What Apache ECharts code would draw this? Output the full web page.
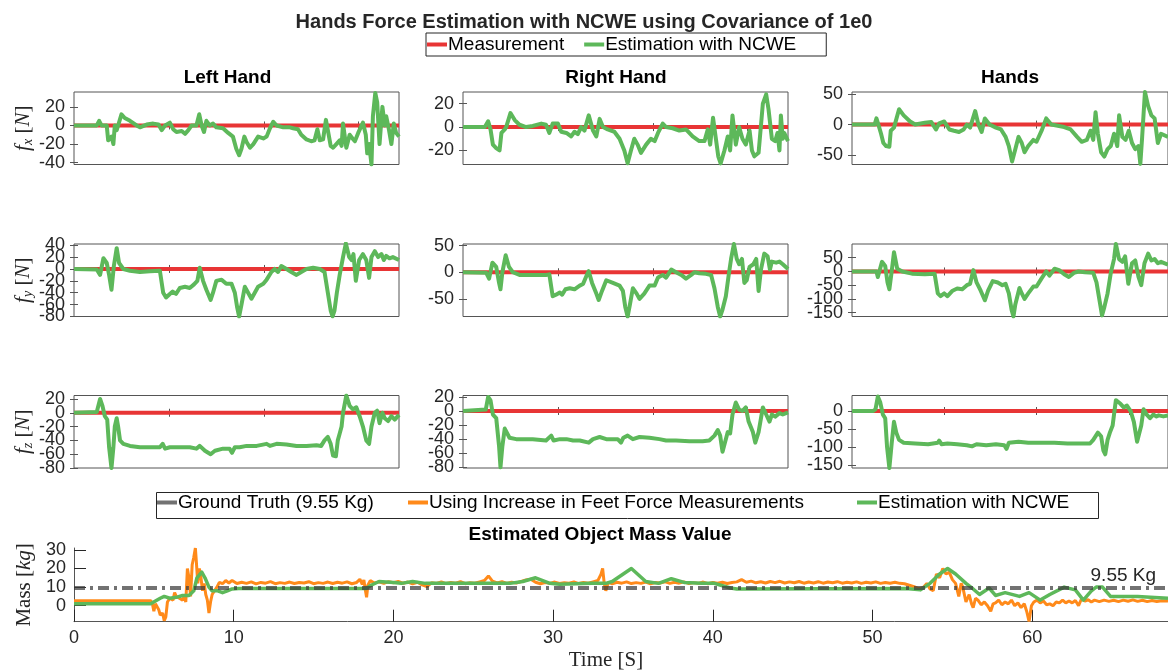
<!DOCTYPE html>
<html><head><meta charset="utf-8">
<script src="https://cdn.jsdelivr.net/npm/echarts@6/dist/echarts.min.js"></script>
<style>html,body{margin:0;padding:0;background:#fff}#c{width:1168px;height:672px}</style>
</head><body><div id="c"></div>
<script>
const XMAX = 68.5;
const xTicksSmall = [20, 40, 60];
const massXTicks = [0, 10, 20, 30, 40, 50, 60];
const massYTicks = [0, 10, 20, 30];
const groundTruth = 9.55;

const yTicks = [[-40,-20,0,20],[-20,0,20],[-50,0,50],[-80,-60,-40,-20,0,20,40],[-50,0,50],[-150,-100,-50,0,50],[-80,-60,-40,-20,0,20],[-80,-60,-40,-20,0,20],[-150,-100,-50,0]];
const yMin = [-42,-32,-65,-80,-83,-164,-80,-81,-158];
const yMax = [36,30,53,42,53,100,25,22,43];

const measurement = [[0,0],[XMAX,0]];

const fxLeft = [[0,0],[4.8,0],[5.3,5],[5.8,0],[6.9,0],[7.2,-16],[7.6,-18],[7.9,-12],[8.3,-20],[8.6,0],[9.0,-5],[9.3,0],[10.0,12],[10.7,8],[11.8,5],[13.2,0],[13.9,-2],[15.3,1],[16.7,2],[17.8,1],[18.5,-5],[19.2,0],[20.2,3],[20.9,-4],[21.6,-7],[22.7,-6],[23.4,-9],[24.1,-5],[24.8,0],[25.8,0],[26.4,12],[26.9,0],[27.4,-7],[27.9,5],[28.6,0],[29.3,2],[30.0,-2],[31.4,-3],[32.5,-8],[33.5,-12],[34.2,-25],[34.8,-32],[35.3,-25],[35.9,-12],[36.4,-18],[37.1,-24],[37.8,-20],[38.8,-12],[39.9,-14],[40.6,-12],[41.3,-3],[42.0,4],[42.7,0],[44.1,-2],[45.5,-2],[46.2,-3],[47.2,-4],[47.9,-10],[49.0,-15],[50.0,-17],[50.7,-16],[51.3,-4],[51.8,-16],[52.5,-15],[53.1,6],[53.5,-5],[54.1,-22],[54.6,-24],[55.3,-20],[56.0,-16],[56.4,-22],[56.7,2],[57.4,-24],[58.1,-10],[58.7,-14],[59.2,-17],[59.9,-8],[60.9,3],[61.5,-10],[61.8,-30],[62.2,-20],[62.7,-42],[63.0,10],[63.5,35],[63.9,25],[64.4,-20],[65.0,20],[65.5,0],[65.8,10],[66.4,-5],[66.9,-20],[67.4,2],[67.9,-8],[68.5,-12]];
const fxRight = [[0,0],[4.6,0],[5.3,5],[5.8,-2],[6.3,-15],[7.0,-18],[7.7,-20],[8.1,-5],[8.8,-2],[9.1,0],[10.0,12],[10.9,6],[11.9,2],[13.3,0],[14.7,1],[16.5,3],[17.5,2],[18.2,-5],[18.9,3],[20.0,3],[20.7,-4],[21.8,-5],[22.8,-8],[23.5,-4],[24.2,-6],[24.9,0],[25.6,-3],[26.5,10],[27.4,-3],[28.1,-8],[28.8,7],[29.5,0],[30.5,-2],[31.9,-4],[33.0,-10],[34.0,-20],[34.7,-31],[35.4,-20],[36.1,-10],[36.8,-15],[37.5,-22],[38.6,-15],[39.6,-10],[40.4,-12],[41.1,-5],[42.1,3],[42.8,0],[44.2,-1],[45.6,-3],[47.0,-2],[48.4,-8],[49.8,-12],[50.9,-12],[51.6,-2],[52.1,-15],[52.7,8],[53.3,-10],[53.8,-25],[54.3,-31],[55.1,-20],[55.8,-8],[56.3,-20],[56.8,10],[57.5,-15],[58.2,0],[58.9,-10],[59.6,-15],[60.4,-3],[60.9,-20],[61.4,-25],[62.3,-22],[63.2,20],[63.9,28],[64.4,15],[65.1,-10],[65.8,-12],[66.3,-5],[66.7,-20],[67.0,10],[67.4,-10],[67.7,-5],[68.5,-12]];
const fxHands = [[0,0],[4.9,0],[5.3,10],[5.8,-2],[6.3,-15],[6.8,-30],[7.4,-35],[8.1,-36],[8.4,-10],[9.1,-5],[10.2,25],[11.2,15],[12.6,5],[13.7,0],[15.8,3],[17.2,4],[18.2,-8],[18.9,2],[20.0,5],[21.1,-8],[22.1,-10],[23.2,-12],[24.2,-8],[24.9,0],[25.6,-5],[26.7,22],[27.4,0],[28.1,-12],[28.8,10],[29.8,0],[31.2,-5],[32.3,-8],[33.3,-20],[34.0,-35],[34.7,-60],[35.4,-40],[36.1,-20],[36.8,-30],[37.4,-45],[38.2,-35],[39.3,-25],[40.0,-28],[41.1,-10],[42.1,10],[43.2,0],[44.6,-2],[46.0,-4],[47.4,-8],[48.8,-20],[49.8,-28],[50.9,-25],[51.7,-10],[52.3,-25],[52.8,20],[53.3,-15],[54.0,-45],[54.7,-52],[55.4,-40],[56.1,-35],[56.8,-15],[57.5,-35],[57.9,15],[58.6,-20],[59.3,-25],[60.0,-10],[60.7,-30],[61.4,-40],[62.1,-35],[62.5,-64],[62.9,-20],[63.5,53],[64.2,30],[64.9,15],[65.6,10],[66.3,-30],[67.0,-15],[68.5,-20]];

const fyLeft = [[0,0],[4.8,-1],[5.5,-10],[6.2,18],[6.9,10],[7.4,-10],[7.9,-35],[8.4,5],[9.0,35],[9.5,10],[10.4,0],[11.8,-3],[13.9,-5],[16.0,-4],[18.1,-3],[18.8,-40],[19.4,-48],[20.2,-42],[20.8,-38],[21.5,-42],[22.3,-32],[23.4,-30],[24.4,-32],[25.3,-26],[26.0,-20],[26.5,2],[27.2,-20],[27.9,-35],[28.8,-52],[29.3,-40],[30.0,-20],[31.1,-18],[32.1,-25],[33.2,-25],[33.9,-40],[34.4,-65],[34.8,-80],[35.3,-60],[36.0,-30],[36.7,-40],[37.4,-50],[38.1,-40],[38.8,-30],[39.9,-25],[40.6,-18],[41.6,-5],[42.3,0],[43.0,-5],[43.7,5],[44.8,0],[45.8,-5],[46.9,-10],[47.9,-5],[49.0,0],[50.4,2],[51.8,0],[52.8,-5],[53.5,-40],[54.1,-70],[54.5,-80],[54.9,-70],[55.4,-40],[56.0,-10],[56.7,20],[57.3,43],[58.0,20],[58.5,15],[58.9,25],[59.4,-20],[60.1,15],[60.9,25],[61.6,15],[62.2,-15],[62.7,20],[63.4,30],[64.1,20],[64.8,25],[65.3,15],[65.8,22],[66.5,18],[67.2,20],[68.5,15]];
const fyRight = [[0,0],[4.9,-1],[5.5,-12],[6.2,18],[7.0,10],[7.6,-20],[7.9,-32],[8.3,0],[9.0,32],[9.7,10],[10.5,0],[11.9,-5],[14.7,-5],[17.5,-5],[18.2,-4],[18.9,-45],[19.6,-42],[20.4,-38],[20.9,-42],[21.6,-32],[22.5,-30],[23.5,-32],[24.6,-25],[25.3,-22],[26.1,-5],[26.5,2],[27.2,-20],[28.1,-40],[28.6,-52],[29.3,-35],[30.2,-15],[31.6,-20],[33.0,-25],[33.7,-35],[34.2,-65],[34.7,-83],[35.2,-60],[35.8,-30],[36.6,-40],[37.2,-50],[38.2,-40],[39.3,-25],[40.4,-25],[41.1,-10],[42.1,-5],[42.8,-10],[43.9,5],[44.9,0],[46.0,-5],[47.0,-12],[48.1,-5],[48.8,0],[49.8,-2],[51.2,-3],[52.3,-5],[53.0,-30],[53.7,-65],[54.2,-83],[54.7,-70],[55.4,-45],[56.0,-5],[56.5,25],[57.1,53],[57.7,25],[58.2,15],[58.8,25],[59.3,-20],[59.8,-15],[60.4,10],[61.2,15],[61.8,25],[62.3,-35],[62.8,5],[63.5,35],[64.2,30],[64.7,5],[65.1,20],[66.0,18],[66.7,20],[67.4,15],[68.5,6]];
const fyHands = [[0,0],[5.3,0],[5.6,-20],[6.5,35],[7.2,20],[7.7,-40],[8.1,-65],[8.6,0],[9.1,70],[9.8,10],[10.9,0],[13.0,-8],[15.8,-10],[17.9,-8],[18.6,-80],[19.2,-90],[20.0,-80],[20.7,-90],[21.8,-70],[22.8,-62],[23.9,-65],[24.9,-50],[25.6,-45],[26.3,5],[27.0,-40],[27.9,-70],[28.8,-105],[29.5,-70],[30.5,-35],[31.6,-40],[32.6,-50],[33.3,-45],[34.0,-80],[34.6,-140],[35.0,-164],[35.4,-120],[36.3,-60],[36.8,-80],[37.4,-100],[38.2,-80],[39.3,-55],[40.0,-55],[41.1,-25],[42.1,0],[42.8,-15],[43.9,10],[44.9,5],[46.0,-10],[47.0,-20],[48.1,-5],[49.1,0],[50.5,-3],[52.3,-5],[53.0,-40],[53.7,-110],[54.2,-160],[54.7,-130],[55.4,-80],[56.1,-5],[56.8,45],[57.2,100],[57.9,45],[58.6,35],[59.2,55],[59.9,-45],[60.7,30],[61.4,40],[62.1,-20],[62.7,-50],[63.4,30],[64.2,65],[64.9,40],[65.6,45],[66.3,30],[67.0,35],[68.5,25]];

const fzLeft = [[0,0],[4.8,1],[5.5,20],[6.0,10],[6.5,-5],[7.0,-10],[7.4,-50],[7.9,-80],[8.3,-50],[8.6,-20],[9.0,-8],[9.3,-20],[9.7,-40],[10.4,-45],[11.8,-48],[13.9,-50],[16.7,-50],[18.1,-50],[18.7,-45],[19.2,-52],[20.2,-50],[21.6,-50],[23.0,-50],[24.4,-50],[25.8,-52],[26.5,-48],[27.6,-55],[28.8,-60],[29.7,-55],[31.4,-52],[32.8,-52],[33.3,-58],[33.9,-50],[34.9,-50],[36.4,-48],[38.5,-48],[40.6,-45],[41.3,-48],[42.7,-45],[44.8,-46],[46.9,-48],[49.0,-48],[51.1,-47],[52.1,-48],[52.8,-40],[53.5,-35],[54.1,-45],[54.6,-62],[55.2,-63],[55.6,-40],[56.0,-30],[56.4,-20],[56.7,0],[57.4,25],[58.1,10],[58.8,5],[59.5,8],[60.2,-5],[60.9,-20],[61.6,-40],[62.2,-45],[62.7,-20],[63.4,0],[63.9,3],[64.4,-15],[65.0,0],[65.5,-8],[66.2,-12],[66.9,-5],[67.6,-10],[68.5,-3]];
const fzRight = [[0,0],[4.8,2],[5.3,20],[5.8,15],[6.3,-5],[7.0,-10],[7.6,-50],[7.9,-80],[8.3,-50],[8.8,-25],[9.1,-25],[9.8,-38],[11.2,-40],[14.7,-40],[17.5,-42],[18.6,-35],[19.1,-42],[20.4,-40],[21.8,-40],[23.2,-42],[24.6,-42],[26.5,-45],[27.4,-40],[28.8,-37],[30.2,-40],[31.6,-40],[32.6,-40],[33.3,-45],[33.8,-38],[34.7,-35],[35.8,-40],[37.2,-37],[39.3,-38],[41.4,-40],[42.8,-42],[44.9,-42],[47.7,-43],[50.5,-43],[51.9,-42],[53.0,-35],[53.7,-27],[54.2,-35],[54.7,-58],[55.1,-60],[55.8,-30],[56.3,-32],[56.8,-5],[57.5,12],[58.2,2],[58.9,0],[59.6,5],[60.2,-15],[61.1,-30],[61.6,-45],[62.3,-30],[63.2,5],[63.9,-5],[64.6,-15],[65.1,-5],[65.8,-8],[66.7,-3],[67.4,-5],[68.5,-2]];
const fzHands = [[0,0],[4.6,0],[5.1,5],[5.6,40],[6.1,25],[6.7,-10],[7.2,-20],[7.6,-100],[8.1,-158],[8.6,-90],[9.1,-30],[9.6,-60],[10.2,-80],[11.2,-88],[13.7,-90],[16.5,-92],[18.6,-88],[18.9,-82],[19.4,-92],[20.7,-90],[22.8,-92],[24.9,-95],[26.0,-98],[27.0,-92],[29.1,-95],[31.2,-92],[33.0,-95],[33.5,-105],[34.0,-88],[36.1,-85],[38.2,-88],[41.1,-88],[43.9,-88],[46.7,-90],[49.5,-90],[51.6,-90],[52.3,-80],[53.3,-60],[54.0,-70],[54.5,-110],[54.9,-120],[55.4,-80],[55.9,-60],[56.5,-40],[56.8,-10],[57.2,30],[57.5,35],[58.2,20],[58.9,10],[59.6,15],[60.4,0],[61.1,-30],[61.8,-85],[62.2,-80],[62.7,-40],[63.2,5],[63.9,-10],[64.6,-20],[65.3,-10],[66.0,-15],[66.5,-12],[67.5,-15],[68.5,-12]];

const massFeet = [[0,2.7],[4.8,2.7],[4.9,1.5],[5.0,-3],[5.1,1],[5.2,2],[5.3,-2],[5.4,-5],[5.55,-4],[5.65,-8],[5.75,-6],[5.85,2],[6.0,4],[6.1,5],[6.2,3],[6.3,7],[6.4,5],[6.5,6],[6.6,4],[6.7,4.5],[6.8,3],[6.9,5],[7.0,2],[7.1,20],[7.2,15],[7.3,5],[7.4,22],[7.5,26],[7.6,31],[7.65,25],[7.75,12],[7.85,20],[7.95,15],[8.05,8],[8.15,12],[8.25,6],[8.35,3],[8.45,-4],[8.55,2],[8.65,6],[8.8,8],[8.95,10],[9.1,12.5],[9.3,11.8],[9.5,13.5],[9.7,12.2],[9.9,13.6],[10.2,11.9],[10.5,12.6],[10.8,12.0],[11.1,12.8],[11.4,11.7],[11.7,12.5],[12.0,12.1],[12.3,12.9],[12.6,11.8],[12.9,12.4],[13.2,12.0],[13.5,12.7],[13.8,11.9],[14.1,12.5],[14.4,12.2],[14.7,12.9],[15.0,11.8],[15.3,12.4],[15.6,12.0],[15.9,12.7],[16.2,11.9],[16.5,12.6],[16.8,12.1],[17.1,12.8],[17.4,11.8],[17.7,12.5],[17.9,14.2],[18.05,11.5],[18.15,13.8],[18.25,8],[18.32,4.5],[18.4,11],[18.55,13.5],[18.8,12.2],[19.1,12.8],[19.4,12.0],[19.7,12.9],[20.0,12.3],[20.3,13.0],[20.6,12.1],[20.9,12.7],[21.2,11.8],[21.5,12.6],[21.8,11.2],[22.1,10.2],[22.4,12.4],[22.7,12.0],[23.0,12.8],[23.3,11.9],[23.6,12.5],[23.9,12.1],[24.2,12.9],[24.5,11.8],[24.8,12.4],[25.1,12.1],[25.4,12.8],[25.7,13.5],[25.95,16],[26.2,13.2],[26.5,12.2],[26.8,12.9],[27.1,12.0],[27.4,12.6],[27.7,12.2],[28.0,13.0],[28.3,13.8],[28.6,14.2],[28.9,12.6],[29.2,11.8],[29.5,12.5],[29.8,12.0],[30.1,12.7],[30.4,11.9],[30.7,12.4],[31.0,12.1],[31.3,12.8],[31.6,11.9],[31.9,12.5],[32.2,12.1],[32.5,12.8],[32.8,13.5],[33.0,17],[33.1,20],[33.2,12],[33.3,8],[33.45,12.5],[33.7,11.8],[34.0,12.6],[34.3,12.1],[34.6,12.8],[34.9,11.9],[35.2,12.4],[35.5,12.0],[35.8,12.7],[36.1,11.8],[36.4,12.5],[36.7,12.2],[37.0,12.9],[37.3,12.0],[37.6,12.6],[37.9,12.1],[38.2,12.8],[38.5,11.9],[38.8,12.4],[39.1,12.0],[39.4,12.7],[39.7,11.8],[40.0,12.5],[40.3,12.1],[40.6,12.6],[40.9,11.9],[41.2,12.5],[41.5,12.8],[41.8,14.0],[42.1,12.6],[42.4,13.2],[42.7,12.3],[43.0,12.9],[43.3,12.2],[43.6,13.0],[43.9,12.4],[44.2,13.1],[44.5,12.2],[44.8,12.8],[45.1,12.3],[45.4,13.0],[45.7,12.1],[46.0,12.7],[46.3,12.2],[46.6,12.9],[46.9,12.1],[47.2,12.7],[47.5,12.3],[47.8,12.9],[48.1,12.1],[48.4,12.6],[48.7,12.2],[49.0,12.8],[49.3,12.0],[49.6,12.6],[49.9,12.2],[50.2,12.8],[50.5,12.0],[50.8,12.5],[51.1,12.1],[51.4,12.6],[51.7,12.0],[52.0,11.8],[52.3,11.0],[52.6,10.2],[52.9,9.0],[53.0,8],[53.2,10],[53.4,12],[53.6,9],[53.8,8],[54.0,17],[54.2,15],[54.4,20],[54.6,17],[54.8,18],[55.0,14],[55.2,12],[55.4,5],[55.55,12],[55.65,10],[55.85,2],[56.05,6],[56.2,1],[56.3,-1],[56.45,4],[56.6,3],[56.8,0.5],[57.0,2],[57.2,0],[57.4,-3],[57.55,1],[57.7,1.5],[57.9,3],[58.1,0.5],[58.3,2],[58.5,1],[58.7,3],[58.9,0],[59.1,1.5],[59.3,-1],[59.5,1],[59.65,-3],[59.8,-8.5],[59.95,0],[60.1,2],[60.3,3],[60.5,1.5],[60.7,2.5],[60.9,0.5],[61.1,1],[61.3,0],[61.5,2],[61.7,1.5],[61.9,3],[62.1,1.5],[62.3,2.5],[62.5,1.5],[62.7,2.8],[62.9,0],[63.1,4],[63.3,2.5],[63.5,3.2],[63.7,2],[63.9,3],[64.2,2.2],[64.5,3.0],[64.8,2.3],[65.1,2.9],[65.4,2.2],[65.7,3.0],[66.0,2.4],[66.3,3.1],[66.6,2.3],[66.9,2.9],[67.2,2.2],[67.5,2.8],[67.8,2.3],[68.1,2.7],[68.5,2.5]];
const massNCWE = [[0,1],[4.8,1],[5.1,2.5],[5.4,4],[5.65,5],[6.0,4],[6.4,4.5],[6.8,5.5],[7.2,5.5],[7.5,8],[7.7,15],[8.0,18],[8.2,15],[8.45,10],[8.65,8],[9.0,8],[9.3,7],[9.6,8],[9.9,9],[10.3,9.3],[18.3,9.3],[18.6,11],[19.1,13],[20.0,12.5],[20.5,12],[21.2,13],[22,12],[27.3,12],[28.1,13],[28.9,15],[29.8,12],[30.4,11.5],[32.4,12],[33.3,12],[33.7,13],[34.9,20],[35.8,13],[36.6,12],[37.4,14.5],[38.2,12.5],[39.3,12],[40.1,12],[40.5,11],[41.1,9.5],[41.5,9],[52.1,9.3],[53.0,8.5],[53.6,12],[54.2,17],[54.7,20],[55.2,17],[55.85,12],[56.3,9],[56.7,6],[57.3,9.5],[57.7,5.5],[58.3,7],[59.2,5],[59.8,7],[60.5,3],[61.1,6],[62.0,10],[62.7,8.5],[63.2,3],[63.7,8],[64.0,10],[64.4,10],[64.9,5],[65.8,5],[66.6,5],[67.4,4.5],[68.5,4]];

const panelData = [fxLeft, fxRight, fxHands, fyLeft, fyRight, fyHands, fzLeft, fzRight, fzHands];
const columnTitles = ['Left Hand', 'Right Hand', 'Hands'];
const rowSub = ['x', 'y', 'z'];

const RED = '#e83535', GREEN = '#5db85a', ORANGE = '#ff8a1a', GRAY = 'rgba(60,60,60,0.72)';
const TXT = '#262626', AX = '#555';
const SANS = 'Liberation Sans', SERIF = 'Liberation Serif';
const colLeft = [74, 463, 852], rowTop = [92, 244, 395.5], PW = 325, PH = 72.5;

const grid = [], xAxis = [], yAxis = [], series = [];
for (let i = 0; i < 9; i++) {
  const r = Math.floor(i / 3), c = i % 3;
  grid.push({left: colLeft[c], top: rowTop[r], width: PW, height: PH, show: true, borderColor: AX, borderWidth: 1, backgroundColor: 'transparent'});
  const xa = {gridIndex: i, type: 'value', min: 0, max: XMAX, axisLine: {show: false}, splitLine: {show: false},
    axisTick: {show: true, inside: true, length: 4, customValues: xTicksSmall, lineStyle: {color: AX}}, axisLabel: {show: false}};
  xAxis.push(Object.assign({}, xa, {position: 'bottom'}));
  xAxis.push(Object.assign({}, xa, {position: 'top'}));
  const ya = {gridIndex: i, type: 'value', min: yMin[i], max: yMax[i], axisLine: {show: false}, splitLine: {show: false},
    axisTick: {show: true, inside: true, length: 4, customValues: yTicks[i], lineStyle: {color: AX}}};
  // labels split into two interleaved sets so close labels are not dropped
  const labA = yTicks[i].filter((_, j) => j % 2 === 0);
  const labB = yTicks[i].filter((_, j) => j % 2 === 1);
  const labStyle = {fontSize: 18, color: TXT, fontFamily: SANS, margin: 9, hideOverlap: false};
  const left = Object.assign({}, ya, {position: 'left',
    axisLabel: Object.assign({show: true, customValues: labA}, labStyle)});
  if (c === 0) {
    Object.assign(left, {name: '{i|f}{s|' + rowSub[r] + '}{r| [}{i|N}{r|]}', nameLocation: 'middle', nameRotate: 90, nameGap: 38,
      nameTextStyle: {rich: {
        i: {fontFamily: SERIF, fontStyle: 'italic', fontSize: 21, color: TXT, lineHeight: 24},
        s: {fontFamily: SERIF, fontStyle: 'italic', fontSize: 14, color: TXT, verticalAlign: 'bottom', lineHeight: 18},
        r: {fontFamily: SERIF, fontSize: 21, color: TXT, lineHeight: 24}}}});
  }
  yAxis.push(left);
  yAxis.push(Object.assign({}, ya, {position: 'right', axisLabel: {show: false}}));
  yAxis.push(Object.assign({}, ya, {position: 'left', axisTick: {show: false},
    axisLabel: Object.assign({show: labB.length > 0, customValues: labB}, labStyle)}));
  series.push({name: 'Measurement', type: 'line', xAxisIndex: 2 * i, yAxisIndex: 3 * i, data: measurement,
    showSymbol: false, symbol: 'none', color: RED, lineStyle: {color: RED, width: 4}, z: 2});
  series.push({name: 'Estimation with NCWE', type: 'line', xAxisIndex: 2 * i, yAxisIndex: 3 * i, data: panelData[i],
    showSymbol: false, symbol: 'none', color: GREEN, lineStyle: {color: GREEN, width: 4, join: 'round'}, z: 3});
}

// bottom mass plot
grid.push({left: 74, top: 548, width: 1103, height: 73.7});
xAxis.push({gridIndex: 9, type: 'value', min: 0, max: XMAX, position: 'bottom',
  axisLine: {show: true, onZero: false, lineStyle: {color: AX, width: 1}}, splitLine: {show: false},
  axisTick: {show: true, inside: true, length: 12, customValues: massXTicks, lineStyle: {color: TXT}},
  axisLabel: {customValues: massXTicks, fontSize: 18, color: TXT, fontFamily: SANS, margin: 7},
  name: 'Time [S]', nameLocation: 'middle', nameGap: 28,
  nameTextStyle: {fontFamily: SERIF, fontSize: 21, color: TXT, padding: [0, 30, 0, 0]}});
yAxis.push({gridIndex: 9, type: 'value', min: -8.6, max: 31, position: 'left',
  axisLine: {show: true, lineStyle: {color: AX, width: 1}}, splitLine: {show: false},
  axisTick: {show: true, inside: true, length: 12, customValues: massYTicks, lineStyle: {color: TXT}},
  axisLabel: {customValues: massYTicks, fontSize: 18, color: TXT, fontFamily: SANS, margin: 8},
  name: '{r|Mass [}{i|kg}{r|]}', nameLocation: 'middle', nameRotate: 90, nameGap: 33,
  nameTextStyle: {rich: {
    i: {fontFamily: SERIF, fontStyle: 'italic', fontSize: 21, color: TXT},
    r: {fontFamily: SERIF, fontSize: 21, color: TXT}}}});
const MY = 27; // index of the mass y axis
series.push({name: 'Using Increase in Feet Force Measurements', type: 'line', xAxisIndex: 18, yAxisIndex: MY, data: massFeet,
  showSymbol: false, symbol: 'none', color: ORANGE, lineStyle: {color: ORANGE, width: 3}, z: 2});
series.push({name: 'Estimation with NCWE', type: 'line', xAxisIndex: 18, yAxisIndex: MY, data: massNCWE,
  showSymbol: false, symbol: 'none', color: GREEN, lineStyle: {color: GREEN, width: 3.5, join: 'round'}, z: 3});
series.push({name: 'Ground Truth (9.55 Kg)', type: 'line', xAxisIndex: 18, yAxisIndex: MY, data: [[0, groundTruth], [XMAX, groundTruth]],
  showSymbol: false, symbol: 'none', color: GRAY, lineStyle: {color: GRAY, width: 4, type: [11, 5, 3, 5]}, z: 4,
  markPoint: {symbol: 'circle', symbolSize: 0, silent: true, animation: false,
    data: [{coord: [65.7, groundTruth], label: {show: true, position: 'top', distance: 3, formatter: '9.55 Kg', fontSize: 19, color: TXT, fontFamily: SANS}}]}});

const titles = [
  {text: 'Hands Force Estimation with NCWE using Covariance of 1e0', left: 579, top: 7, textAlign: 'center',
    textStyle: {fontSize: 20, fontWeight: 'bold', color: TXT, fontFamily: SANS}},
  {text: 'Estimated Object Mass Value', left: 595, top: 520, textAlign: 'center',
    textStyle: {fontSize: 19, fontWeight: 'bold', color: '#000', fontFamily: SANS}}
];
const titleX = [222.5, 611, 1005];
columnTitles.forEach((t, c) => titles.push({text: t, left: titleX[c], top: 63, textAlign: 'center',
  textStyle: {fontSize: 19, fontWeight: 'bold', color: '#000', fontFamily: SANS}}));

const legTxt = {fontSize: 19, color: '#000', fontFamily: SANS, padding: [0, 0, 0, -4]};
const legBase = {orient: 'horizontal', itemWidth: 20, itemHeight: 4, icon: 'rect', selectedMode: false, textStyle: legTxt};
const option = {
  animation: false,
  textStyle: {fontFamily: SANS},
  title: titles,
  graphic: [{type: 'rect', left: 154, top: 490, shape: {width: 942, height: 26},
    style: {fill: 'none', stroke: TXT, lineWidth: 1}, silent: true, z: 100}],
  legend: [
    Object.assign({}, legBase, {left: 426, top: 33, padding: [2, 30, 2, 1], itemGap: 20, borderColor: TXT, borderWidth: 1,
      data: ['Measurement', 'Estimation with NCWE']}),
    Object.assign({}, legBase, {left: 157, top: 493, padding: 0, data: ['Ground Truth (9.55 Kg)']}),
    Object.assign({}, legBase, {left: 408, top: 493, padding: 0, data: ['Using Increase in Feet Force Measurements']}),
    Object.assign({}, legBase, {left: 857, top: 493, padding: 0, data: ['Estimation with NCWE']})
  ],
  grid: grid, xAxis: xAxis, yAxis: yAxis, series: series
};
const chart = echarts.init(document.getElementById('c'), null, {renderer: 'canvas'});
chart.setOption(option);
</script></body></html>
